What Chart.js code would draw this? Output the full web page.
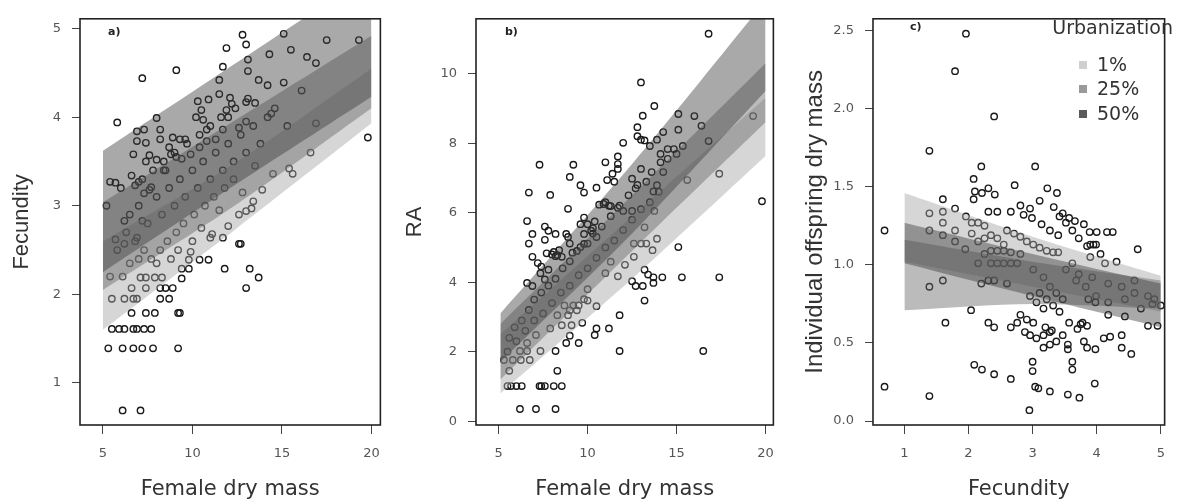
<!DOCTYPE html>
<html>
<head>
<meta charset="utf-8">
<script src="https://cdn.jsdelivr.net/npm/chart.js@4.4.0/dist/chart.umd.min.js"></script>
<style>
html, body { margin: 0; padding: 0; background: #fff; }
#wrap { position: relative; width: 1177px; height: 504px; overflow: hidden; }
#wrap canvas { position: absolute; top: 0; }
</style>
</head>
<body>
<div id="wrap">
  <canvas id="chartA" width="392" height="504" style="left:0"></canvas>
  <canvas id="chartB" width="394" height="504" style="left:392px"></canvas>
  <canvas id="chartC" width="391" height="504" style="left:786px"></canvas>
</div>
<script>
// ---- panel a: fecundity vs female dry mass
var massA = [12.8,15.1,13.0,11.9,17.5,14.3,13.1,15.5,9.1,7.2, 11.7,13.1,16.4,16.9,11.5,13.7,14.2,15.1,11.5,12.1,
  10.3,10.9,12.2,13.1,13.0,13.5,10.5,11.9,12.4,14.4, 10.2,10.6,8.0,5.8,12.0,13.0,12.6,6.9,7.3,8.2,
  10.8,11.7,8.9,9.3,9.6,6.9,7.4,8.2,10.8,11.3, 10.4,9.9,8.7,8.8,6.7,7.6,8.0,7.4,9.1,9.4,
  8.4,8.5,16.6,15.4,15.6,14.5,13.9,5.4,5.7,6.0, 6.6,6.8,7.0,7.3,7.6,7.7,5.2,13.4,13.3,13.0,
  12.6,12.0,11.1,11.7,11.0,12.6,12.7,5.7,6.2,6.9, 6.2,7.2,9.8,9.9,10.4,10.9,11.8,13.2,13.7,13.0,
  9.4,9.4,9.8,8.3,7.9,7.4,7.1,8.5,8.2,8.9, 6.6,7.4,5.5,6.2,6.7,6.9,8.2,8.7,6.6,7.4,
  7.9,9.2,9.3,5.5,5.9,6.2,6.7,6.9,7.3,7.7, 5.3,6.1,6.7,7.2,7.8,9.2,6.1,7.1,19.8,19.3,
  16.1,16.9,15.3,14.6,6.5,7.0,7.5,8.0,8.3,8.7, 9.0,9.3,9.6,10.0,10.3,10.6,11.0,11.3,11.7,12.0,
  12.3,12.7,13.0,13.4,13.8,14.2,5.8,6.3,6.8,7.3, 7.7,8.2,8.6,9.1,9.5,10.1,10.7,11.2,11.8,12.3,
  7.2,7.8,8.4,9.0,9.7,10.4,11.0,11.6,6.1,6.5, 7.0,5.4,8.0,8.8,9.2,10.0,10.5,11.5,12.8,13.5];
var fecA = [4.93,4.94,4.82,4.78,4.87,4.71,4.65,4.76,4.53,4.44, 4.57,4.52,4.68,4.61,4.42,4.42,4.36,4.39,4.26,4.22,
  4.18,4.20,4.15,4.21,4.17,4.16,4.08,4.08,4.10,4.04, 4.00,3.97,3.99,3.94,4.00,3.95,3.88,3.84,3.86,3.86,
  3.86,3.86,3.77,3.75,3.75,3.73,3.71,3.75,3.73,3.75, 3.66,3.58,3.66,3.58,3.58,3.57,3.52,3.50,3.55,3.53,
  3.40,3.40,3.60,3.42,3.36,3.36,3.18,3.27,3.26,3.20, 3.34,3.23,3.27,3.14,3.18,3.21,3.00,3.05,2.97,2.94,
  2.90,2.77,2.68,2.64,2.64,2.57,2.57,2.62,2.83,2.64, 2.57,2.83,2.39,2.48,2.39,2.39,2.29,2.29,2.19,2.07,
  2.29,2.18,2.29,2.19,2.19,2.19,2.19,2.07,2.07,2.07, 2.07,2.07,1.95,1.95,1.95,1.95,1.95,1.95,1.79,1.79,
  1.79,1.79,1.79,1.61,1.61,1.61,1.61,1.61,1.61,1.61, 1.39,1.39,1.39,1.39,1.39,1.39,0.69,0.69,3.77,4.87,
  4.30,3.93,3.90,4.10,2.90,3.00,2.80,3.10,2.90,3.20, 3.00,3.30,3.10,3.40,3.20,3.50,3.30,3.60,3.40,3.70,
  3.50,3.80,3.60,3.90,3.70,4.00,2.50,2.70,2.60,2.50, 2.40,2.50,2.60,2.70,2.80,2.90,3.00,3.10,3.20,3.30,
  3.30,3.40,3.50,3.60,3.70,3.80,3.90,4.00,2.20,2.35, 2.40,2.20,2.35,2.40,2.50,2.60,2.75,2.95,3.15,3.45];
var xTicksA = [5, 10, 15, 20];
var yTicksA = [1, 2, 3, 4, 5];
// confidence bands by urbanization level (x, lower, upper)
var bandXA = [5, 12.5, 20];
var a50Lo = [2.25, 3.25, 4.23], a50Hi = [3.62, 4.62, 5.62];
var a25Lo = [2.05, 3.02, 4.10], a25Hi = [3.04, 3.98, 4.92];
var a1Lo = [1.60, 2.75, 3.93],  a1Hi = [2.60, 3.50, 4.55];

// ---- panel b: RA vs female dry mass
var massB = [16.8,13.0,13.75,13.1,15.1,16.0,19.3,12.8,16.4,14.25, 15.1,12.8,13.0,13.2,13.5,13.9,12.0,16.8,11.7,11.7,
  11.0,11.7,11.4,11.1,11.5,14.5,14.85,15.35,15.0,14.1, 14.5,14.1,14.25,13.6,13.0,12.5,12.7,13.3,13.9,13.7,
  17.4,15.6,9.2,7.3,9.0,7.9,6.7,9.6,9.8,10.5, 8.9,10.65,10.9,11.3,11.7,12.0,12.5,13.75,19.8,6.6,
  6.9,6.7,7.6,7.8,8.2,7.6,8.8,8.9,9.0,9.6, 9.8,10.0,10.2,9.8,10.5,10.0,9.6,9.15,7.7,8.1,
  8.3,8.4,8.55,6.9,7.2,7.4,6.6,6.9,7.35,7.8, 7.6,11.3,11.0,11.7,12.1,12.6,12.6,13.0,13.3,13.2,
  13.9,13.65,15.1,12.5,12.7,13.1,13.2,13.2,13.4,13.7, 14.2,15.3,17.4,13.7,10.0,9.8,10.0,10.5,9.2,9.5,
  8.7,9.0,9.4,8.3,8.9,11.8,9.7,8.55,9.1,7.9, 10.5,11.2,10.4,9.0,8.8,9.5,7.1,6.6,6.2,6.6,
  7.35,8.2,11.8,16.5,5.3,5.8,6.25,6.75,5.6,8.3, 5.5,5.7,6.0,6.3,7.3,7.4,7.6,8.1,8.55,6.2,
  7.1,8.2,5.6,5.9,6.3,6.7,7.0,7.4,7.8,8.2, 8.6,9.0,9.4,9.8,10.3,10.8,11.3,11.8,12.3,12.8,
  5.5,6.0,6.5,7.0,7.5,8.0,8.5,9.0,9.5,10.0, 10.5,11.0,11.5,12.0,12.5,13.0,13.5,14.0,8.0,8.2,
  10.3,10.4,11.2,11.0];
var raB = [11.15,9.75,9.07,8.79,8.84,8.78,8.78,8.46,8.50,8.32, 8.39,8.20,8.10,8.08,7.92,8.10,8.01,8.06,7.62,7.40,
  7.45,7.26,7.12,6.94,6.89,7.83,7.83,7.92,7.69,7.69, 7.55,7.45,7.17,7.17,7.26,6.98,6.70,6.89,6.79,6.61,
  7.12,6.94,7.38,7.38,7.03,6.51,6.58,6.79,6.58,6.72, 6.11,6.23,6.25,6.19,6.14,6.05,6.05,6.05,6.33,5.76,
  5.39,5.11,5.60,5.48,5.39,5.22,5.39,5.30,5.11,5.67, 5.86,5.67,5.48,5.39,5.30,5.11,5.01,4.85,4.83,4.87,
  4.78,4.92,4.73,4.73,4.55,4.45,3.98,3.89,4.26,4.36, 4.08,4.59,4.26,4.17,4.50,4.73,5.11,5.11,5.11,5.58,
  5.25,4.92,5.01,4.03,3.89,3.89,3.47,4.36,4.22,4.14, 4.14,4.14,4.14,3.98,3.80,3.51,3.47,3.31,3.33,3.33,
  3.33,3.19,3.19,3.05,3.05,3.05,2.83,2.76,2.76,2.67, 2.67,2.67,2.48,2.46,2.25,2.25,2.48,2.25,2.02,2.02,
  2.02,2.02,2.02,2.02,1.76,1.76,1.76,1.76,1.45,1.45, 1.01,1.01,1.01,1.01,1.01,1.01,1.01,1.01,1.01,0.35,
  0.35,0.35,2.40,2.70,2.90,3.20,3.50,3.70,3.90,4.10, 4.40,4.60,4.90,5.10,5.40,5.60,5.90,6.20,6.50,6.80,
  2.00,2.30,2.60,2.90,3.10,3.40,3.70,3.90,4.20,4.40, 4.70,5.00,5.20,5.50,5.80,6.10,6.30,6.60,4.80,4.75,
  5.55,5.75,6.20,6.30];
var xTicksB = [5, 10, 15, 20];
var yTicksB = [0, 2, 4, 6, 8, 10];
var bandXB = [5.1, 12.5, 20];
var b50Lo = [1.70, 5.40, 9.50], b50Hi = [3.10, 7.40, 12.10];
var b25Lo = [1.20, 4.90, 8.60], b25Hi = [2.80, 6.50, 10.30];
var b1Lo = [0.80, 4.10, 7.63],  b1Hi = [2.50, 5.90, 9.30];

// ---- panel c: individual offspring dry mass vs fecundity
var fecC = [1.96,1.79,2.40,1.39,0.69,0.69,1.39,2.20,3.04,2.08, 2.10,2.21,2.31,2.41,2.08,2.72,3.23,3.38,1.60,1.60,
  1.79,1.96,1.39,1.39,1.60,1.60,1.79,1.79,2.31,2.45, 2.66,2.81,2.96,3.11,3.33,3.47,3.57,3.66,3.80,3.89,
  4.00,4.16,4.64,4.31,4.13,3.90,3.99,4.06,3.90,2.60, 2.71,2.81,2.91,3.01,3.11,3.22,3.32,3.40,2.86,2.99,
  3.14,3.27,3.40,3.42,3.52,3.62,3.72,3.85,2.04,1.64, 1.39,1.60,2.31,2.40,2.66,2.20,2.31,2.40,2.60,2.09,
  2.21,2.40,2.66,3.00,3.00,3.04,3.09,3.27,3.55,3.73, 3.97,2.95,2.81,2.91,3.01,2.76,2.88,2.96,3.06,3.17,
  3.27,3.27,3.17,3.37,3.47,3.55,3.55,3.62,3.62,3.57, 3.70,3.78,3.80,3.85,3.98,4.11,4.21,4.39,4.39,4.54,
  4.44,4.80,4.95,5.00,4.87,4.69,4.18,3.98,3.87,3.99, 4.18,4.44,4.59,2.35,2.45,2.55,2.66,2.76,2.15,2.25,
  2.35,2.45,2.55,2.66,2.81,2.15,2.25,2.35,2.45,2.55, 3.01,3.17,3.27,3.37,3.47,3.11,3.22,3.32,3.42,3.06,
  3.17,2.96,3.68,3.83,3.52,3.62,3.72,3.93,4.18,4.39, 4.59,4.80,4.90,2.05,2.15,2.25,1.95,2.05,3.75,3.85,
  3.30,3.20,3.95,4.25];
var offC = [2.48,2.24,1.95,1.73,1.22,0.22,0.16,1.63,1.63,1.55, 1.47,1.46,1.49,1.45,1.42,1.51,1.49,1.46,1.42,1.34,
  1.36,1.31,1.33,1.22,1.27,1.19,1.22,1.15,1.34,1.34, 1.34,1.38,1.36,1.41,1.37,1.33,1.30,1.28,1.26,1.21,
  1.21,1.21,1.10,1.02,1.01,1.13,1.13,1.07,1.05,1.22, 1.20,1.18,1.15,1.13,1.11,1.09,1.08,1.08,1.32,1.30,
  1.26,1.22,1.19,1.31,1.27,1.22,1.17,1.12,0.71,0.63, 0.86,0.90,0.63,0.60,0.60,0.88,0.90,0.90,0.88,0.36,
  0.33,0.30,0.27,0.38,0.32,0.22,0.21,0.19,0.17,0.15, 0.24,0.07,0.68,0.65,0.63,0.63,0.57,0.55,0.53,0.55,
  0.57,0.49,0.47,0.51,0.55,0.49,0.46,0.38,0.33,0.63, 0.59,0.63,0.51,0.47,0.46,0.53,0.54,0.55,0.47,0.43,
  0.67,0.61,0.61,0.74,0.75,0.72,0.68,0.76,0.78,0.80, 0.76,0.78,0.82,1.01,1.01,1.01,1.01,1.01,1.01,1.07,
  1.09,1.09,1.09,1.08,1.07,1.15,1.17,1.19,1.17,1.13, 0.97,0.92,0.86,0.82,0.78,0.82,0.78,0.74,0.70,0.76,
  0.72,0.80,0.90,0.86,0.97,1.01,0.94,0.92,0.88,0.86, 0.90,0.80,0.78,1.27,1.27,1.25,1.10,1.20,0.62,0.61,
  0.58,0.60,1.13,1.21];
var xTicksC = [1, 2, 3, 4, 5];
var yTicksC = [0, 0.5, 1, 1.5, 2, 2.5];
var bandXC = [1, 3, 5];
var c50Lo = [1.01, 0.80, 0.60], c50Hi = [1.27, 1.07, 0.88];
var c25Lo = [0.71, 0.75, 0.72], c25Hi = [1.16, 1.02, 0.90];
var c1Lo = [1.02, 0.86, 0.70],  c1Hi = [1.46, 1.18, 0.93];

var urbLevels = ['1%', '25%', '50%'];
var urbColors = ['rgba(165,165,165,0.45)', 'rgba(105,105,105,0.45)', 'rgba(65,65,65,0.45)'];
var urbKeyColors = ['#cfcfcf', '#9a9a9a', '#5a5a5a'];

function pts(xs, ys) {
    return xs.map(function(x, i) { return {x: x, y: ys[i]}; });
}

function band(xs, lo, hi, color) {
    return [
        {type: 'line', data: pts(xs, hi), fill: '+1', backgroundColor: color,
         borderColor: 'rgba(0,0,0,0)', borderWidth: 0, pointRadius: 0, tension: 0.3, order: 0},
        {type: 'line', data: pts(xs, lo), fill: false,
         borderColor: 'rgba(0,0,0,0)', borderWidth: 0, pointRadius: 0, tension: 0.3, order: 0}
    ];
}

// box around the plot region plus the panel letter
var boxPlugin = {
    id: 'box',
    afterDraw: function(chart, args, opts) {
        var a = chart.chartArea, ctx = chart.ctx;
        ctx.save();
        ctx.strokeStyle = '#222';
        ctx.lineWidth = 1.6;
        ctx.strokeRect(a.left, a.top, a.right - a.left, a.bottom - a.top);
        ctx.fillStyle = '#222';
        ctx.font = 'bold 11px "DejaVu Sans"';
        ctx.textBaseline = 'middle';
        ctx.fillText(opts.tag, a.left + opts.dx, opts.dy);
        ctx.restore();
    }
};

var urbLegend = {
    id: 'urbLegend',
    afterDraw: function(chart, args, opts) {
        if (!opts.show) return;
        var ctx = chart.ctx;
        ctx.save();
        ctx.fillStyle = '#333';
        ctx.textBaseline = 'middle';
        ctx.font = '19px "DejaVu Sans"';
        ctx.textAlign = 'right';
        ctx.fillText('Urbanization', 387, 29);
        ctx.textAlign = 'left';
        var ys = [65, 89, 114];
        for (var i = 0; i < urbLevels.length; i++) {
            ctx.fillStyle = urbKeyColors[i];
            ctx.fillRect(293, ys[i] - 4, 8, 8);
            ctx.fillStyle = '#333';
            ctx.fillText(urbLevels[i], 311, ys[i] + 1);
        }
        ctx.restore();
    }
};

function makePanel(id, p) {
    var datasets = []
        .concat(band(p.bandX, p.lo[2], p.hi[2], urbColors[2]))
        .concat(band(p.bandX, p.lo[1], p.hi[1], urbColors[1]))
        .concat(band(p.bandX, p.lo[0], p.hi[0], urbColors[0]));
    datasets.push({
        type: 'scatter', data: pts(p.xs, p.ys), order: 1,
        pointRadius: 3.2, pointBorderWidth: 1.4,
        borderColor: '#1a1a1a', backgroundColor: 'rgba(0,0,0,0)'
    });

    var tickFont = {family: 'DejaVu Sans', size: 13};
    return new Chart(document.getElementById(id), {
        type: 'scatter',
        data: {datasets: datasets},
        plugins: [boxPlugin, urbLegend],
        options: {
            responsive: false,
            devicePixelRatio: 1,
            animation: false,
            events: [],
            layout: {padding: {left: 0, right: p.padRight, top: 10, bottom: 0}},
            plugins: {
                legend: {display: false},
                tooltip: {enabled: false},
                box: {tag: p.tag, dx: p.tagDx, dy: p.tagDy},
                urbLegend: {show: !!p.legend}
            },
            scales: {
                x: {
                    type: 'linear', min: p.xMin, max: p.xMax,
                    afterBuildTicks: function(s) { s.ticks = p.xTicks.map(function(v) { return {value: v}; }); },
                    afterFit: function(s) { s.height = 79; },
                    grid: {drawOnChartArea: false, drawTicks: true, tickLength: 9, color: '#444'},
                    border: {display: false},
                    ticks: {autoSkip: false, maxRotation: 0, padding: 12, color: '#555', font: tickFont},
                    title: {display: true, text: p.xTitle, color: '#333', padding: {top: 0, bottom: 2},
                            font: {family: 'DejaVu Sans', size: 21}}
                },
                y: {
                    type: 'linear', min: p.yMin, max: p.yMax,
                    afterBuildTicks: function(s) { s.ticks = p.yTicks.map(function(v) { return {value: v}; }); },
                    afterFit: function(s) { s.width = p.yWidth; },
                    grid: {drawOnChartArea: false, drawTicks: true, tickLength: 8, color: '#444'},
                    border: {display: false},
                    ticks: {autoSkip: false, padding: 11, color: '#555', font: tickFont,
                            callback: function(v) { return p.yFmt ? v.toFixed(1) : String(v); }},
                    title: {display: true, text: p.yTitle, color: '#333', padding: {top: p.yTitlePad, bottom: 0},
                            font: {family: 'Liberation Sans', size: p.yTitleSize}}
                }
            }
        }
    });
}

makePanel('chartA', {
    xs: massA, ys: fecA, xTicks: xTicksA, yTicks: yTicksA,
    xMin: 3.72, xMax: 20.5, yMin: 0.525, yMax: 5.11,
    bandX: bandXA, lo: [a1Lo, a25Lo, a50Lo], hi: [a1Hi, a25Hi, a50Hi],
    xTitle: 'Female dry mass', yTitle: 'Fecundity', yWidth: 80, yTitlePad: 9, yTitleSize: 22, padRight: 10,
    tag: 'a)', tagDx: 28, tagDy: 32
});

makePanel('chartB', {
    xs: massB, ys: raB, xTicks: xTicksB, yTicks: yTicksB,
    xMin: 3.73, xMax: 20.44, yMin: -0.11, yMax: 11.58,
    bandX: bandXB, lo: [b1Lo, b25Lo, b50Lo], hi: [b1Hi, b25Hi, b50Hi],
    xTitle: 'Female dry mass', yTitle: 'RA', yWidth: 84, yTitlePad: 10, yTitleSize: 22, padRight: 7,
    tag: 'b)', tagDx: 29, tagDy: 32
});

makePanel('chartC', {
    xs: fecC, ys: offC, xTicks: xTicksC, yTicks: yTicksC,
    xMin: 0.51, xMax: 5.06, yMin: -0.025, yMax: 2.575, yFmt: true,
    bandX: bandXC, lo: [c1Lo, c25Lo, c50Lo], hi: [c1Hi, c25Hi, c50Hi],
    xTitle: 'Fecundity', yTitle: 'Individual offspring dry mass', yWidth: 87, yTitlePad: 15, yTitleSize: 24, padRight: 6,
    tag: 'c)', tagDx: 37, tagDy: 27, legend: true
});
</script>
</body>
</html>
